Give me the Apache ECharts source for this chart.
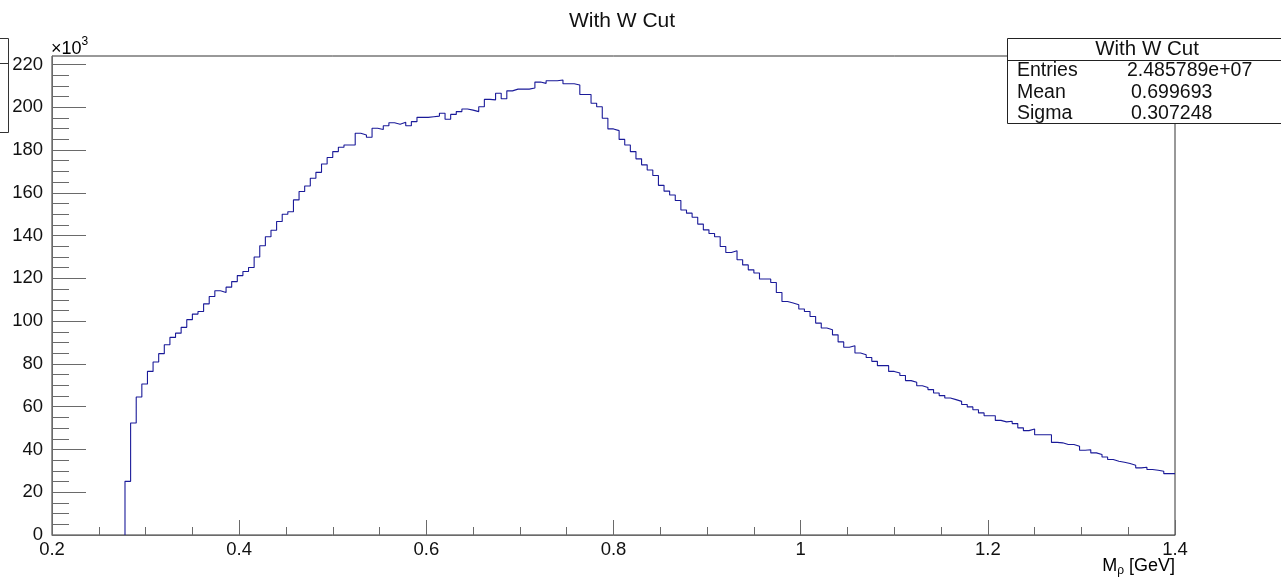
<!DOCTYPE html>
<html>
<head>
<meta charset="utf-8">
<script src="https://cdn.jsdelivr.net/npm/echarts@6/dist/echarts.min.js"></script>
<style>
html,body{margin:0;padding:0;background:#fff;}
#chart{width:1281px;height:582px;}
</style>
</head>
<body>
<div id="chart"></div>
<script>
// ---------- data ----------
const chartTitle = 'With W Cut';
const xLow = 0.2;          // histogram range low edge (GeV)
const xHigh = 1.4;         // histogram range high edge (GeV)
const binWidth = 0.006;    // GeV per bin (200 bins)
// bin contents in units of 10^3 entries
const counts = [
  0, 0, 0, 0, 0, 0, 0, 0, 0, 0,
  0, 0, 0, 25.1, 52.4, 64.5, 70.6, 76.5, 80.9, 84.8,
  89.0, 92.4, 94.4, 97.1, 100.7, 103.3, 104.5, 108.1, 111.5, 114.2,
  113.4, 115.9, 118.5, 121.3, 123.2, 125.1, 130.0, 135.3, 139.5, 142.5,
  146.6, 150.0, 151.2, 156.7, 160.6, 163.2, 166.8, 169.6, 173.5, 176.5,
  179.3, 181.3, 182.4, 182.4, 187.9, 187.1, 186.0, 190.2, 189.6, 191.4,
  192.8, 192.1, 193.0, 191.4, 193.3, 195.3, 195.3, 195.6, 195.9, 197.2,
  194.4, 196.7, 198.0, 199.2, 198.7, 198.0, 200.3, 203.7, 203.5, 206.6,
  204.0, 207.7, 208.5, 208.5, 208.5, 209.0, 211.8, 211.2, 212.4, 212.4,
  212.8, 211.0, 211.0, 210.4, 206.0, 206.0, 201.9, 200.3, 194.9, 189.9,
  189.1, 185.0, 182.4, 179.3, 175.9, 173.1, 170.7, 168.1, 163.5, 160.8,
  159.0, 156.4, 152.0, 150.5, 148.6, 145.4, 142.7, 141.0, 139.5, 134.9,
  132.1, 132.9, 128.7, 126.3, 124.0, 122.5, 119.7, 119.7, 118.1, 113.4,
  109.2, 108.5, 107.7, 105.7, 104.5, 102.2, 99.1, 96.8, 96.0, 93.6,
  90.3, 87.8, 88.5, 85.1, 84.3, 83.0, 81.2, 79.2, 79.2, 76.5,
  75.8, 74.6, 72.2, 71.4, 69.8, 69.0, 68.0, 66.4, 65.2, 64.1,
  63.3, 62.5, 61.0, 59.9, 58.6, 57.1, 55.8, 55.8, 53.6, 52.9,
  53.2, 52.1, 50.1, 48.8, 49.6, 46.9, 46.9, 46.9, 43.3, 43.1,
  42.3, 42.3, 41.5, 39.6, 39.9, 38.4, 37.6, 36.5, 35.3, 34.5,
  34.0, 33.4, 32.6, 31.4, 31.7, 30.6, 30.3, 29.8, 28.7, 28.7
];
const statsTitle = 'With W Cut';
const statsNames = ['Entries', 'Mean', 'Sigma'];
const statsValues = ['2.485789e+07', '0.699693', '0.307248'];
const xAxisTitleMain = 'M';
const xAxisTitleSub = 'ρ';
const xAxisTitleUnit = ' [GeV]';
const yExponent = '3';

// ---------- build histogram outline points ----------
const pts = [];
let first = counts.findIndex(v => v > 0);
for (let k = first; k < counts.length; k++) {
  const edge = +(xLow + k * binWidth).toFixed(6);
  if (k === first) pts.push([edge, 0]);
  pts.push([edge, counts[k]]);
}
pts.push([xHigh, counts[counts.length - 1]]);

const FONT = 'Liberation Sans';
const axisCol = '#6a6a6a';

const chart = echarts.init(document.getElementById('chart'), null, {renderer: 'canvas'});

const statsGraphics = [
  {type: 'rect', z: 100, shape: {x: 1007.5, y: 38.5, width: 300, height: 85},
   style: {fill: '#fff', stroke: '#222', lineWidth: 1}},
  {type: 'line', z: 101, shape: {x1: 1007.5, y1: 60.5, x2: 1281, y2: 60.5},
   style: {stroke: '#222', lineWidth: 1}},
  {type: 'text', z: 102, style: {x: 1147, y: 49, text: statsTitle, font: '20.5px "' + FONT + '"',
   fill: '#111', align: 'center', verticalAlign: 'middle'}}
];
statsNames.forEach((n, i) => {
  statsGraphics.push({type: 'text', z: 102, style: {x: 1017, y: 71 + i * 21.5, text: n,
    font: '19.5px "' + FONT + '"', fill: '#111', align: 'left', verticalAlign: 'middle'}});
  statsGraphics.push({type: 'text', z: 102, style: {x: i === 0 ? 1127 : 1131, y: 71 + i * 21.5, text: statsValues[i],
    font: '19.5px "' + FONT + '"', fill: '#111', align: 'left', verticalAlign: 'middle'}});
});

const option = {
  animation: false,
  backgroundColor: '#fff',
  title: {
    text: chartTitle, left: 617, top: 6, textAlign: 'center',
    textStyle: {fontFamily: FONT, fontSize: 21, fontWeight: 'normal', color: '#111'}
  },
  grid: [
    {left: 52, right: 106, top: 56, bottom: 47, show: true, borderColor: '#333', borderWidth: 1, backgroundColor: 'transparent'},
    {left: 52, right: 106, top: 64.5, bottom: 47, show: false}
  ],
  xAxis: [
    {
      type: 'value', gridIndex: 0, min: xLow, max: xHigh, interval: 0.2,
      axisLine: {show: true, onZero: false, lineStyle: {color: axisCol, width: 1}},
      axisTick: {show: true, inside: true, length: 15, lineStyle: {color: axisCol}},
      minorTick: {show: true, splitNumber: 4, length: 8, lineStyle: {color: axisCol}},
      splitLine: {show: false},
      axisLabel: {fontFamily: FONT, fontSize: 18.5, color: '#111', margin: 5,
        formatter: v => (+v.toFixed(1)).toString()}
    },
    {type: 'value', gridIndex: 1, min: xLow, max: xHigh, show: false}
  ],
  yAxis: [
    {
      type: 'value', gridIndex: 0, min: 0, max: 224,
      axisLine: {show: true, onZero: false, lineStyle: {color: axisCol, width: 1}},
      axisTick: {show: false}, axisLabel: {show: false}, splitLine: {show: false}
    },
    {
      type: 'value', gridIndex: 1, min: 0, max: 220, interval: 20,
      axisLine: {show: false},
      axisTick: {show: true, inside: true, length: 34, lineStyle: {color: axisCol}},
      minorTick: {show: true, splitNumber: 4, length: 17, lineStyle: {color: axisCol}},
      splitLine: {show: false},
      axisLabel: {fontFamily: FONT, fontSize: 18.5, color: '#111', margin: 9}
    }
  ],
  series: [{
    type: 'line', xAxisIndex: 0, yAxisIndex: 0, step: 'end',
    symbol: 'none', data: pts,
    lineStyle: {color: '#1a1a99', width: 1.1},
    z: 5
  }],
  graphic: [
    // x axis title
    {type: 'text', z: 50, style: {x: 1175, y: 566, align: 'right', verticalAlign: 'middle',
      text: '{m|' + xAxisTitleMain + '}{s|' + xAxisTitleSub + '}{m|' + xAxisTitleUnit + '}',
      rich: {
        m: {fontFamily: FONT, fontSize: 18, color: '#111', lineHeight: 22, verticalAlign: 'middle'},
        s: {fontFamily: FONT, fontSize: 12, color: '#111', lineHeight: 12, verticalAlign: 'bottom'}
      }}},
    // y exponent
    {type: 'text', z: 50, style: {x: 51, y: 47, align: 'left', verticalAlign: 'middle',
      text: '{m|×10}{s|' + yExponent + '}',
      rich: {
        m: {fontFamily: FONT, fontSize: 18, color: '#111', lineHeight: 22, verticalAlign: 'bottom'},
        s: {fontFamily: FONT, fontSize: 12, color: '#111', lineHeight: 12, verticalAlign: 'top'}
      }}},
    // partially visible box at the left edge
    {type: 'rect', z: 50, shape: {x: -10, y: 38.5, width: 18.5, height: 94},
     style: {fill: '#fff', stroke: '#333', lineWidth: 1}},
    {type: 'line', z: 51, shape: {x1: 0, y1: 63.5, x2: 8.5, y2: 63.5}, style: {stroke: '#333', lineWidth: 1}}
  ].concat(statsGraphics)
};
chart.setOption(option);
</script>
</body>
</html>
